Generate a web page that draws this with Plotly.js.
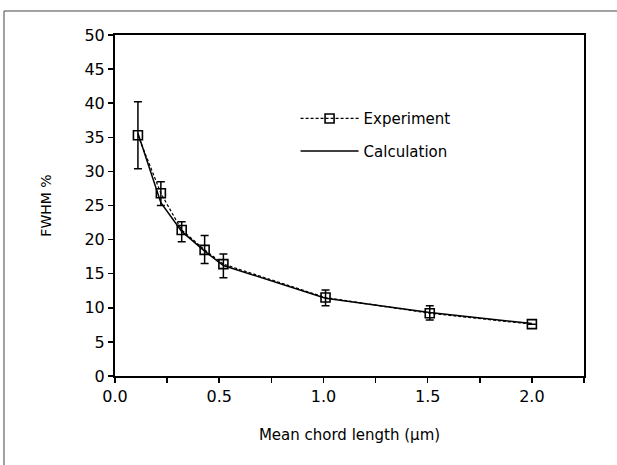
<!DOCTYPE html>
<html>
<head>
<meta charset="utf-8">
<script src="https://cdn.plot.ly/plotly-3.0.1.min.js"></script>
<style>html,body{margin:0;padding:0;background:#fff;}#chart{width:617px;height:465px;}</style>
</head>
<body>
<div id="chart"></div>
<script>
// Data
var expX = [0.11, 0.22, 0.32, 0.43, 0.52, 1.01, 1.51, 2.0];
var expY = [35.3, 26.8, 21.4, 18.5, 16.4, 11.5, 9.2, 7.6];
var expErrPlus = [4.9, 1.7, 1.2, 2.1, 1.5, 1.1, 1.1, 0.0];
var expErrMinus = [4.9, 1.8, 1.7, 2.0, 2.0, 1.2, 1.0, 0.0];
var calcX = [0.11, 0.22, 0.32, 0.43, 0.52, 1.01, 1.51, 2.0];
var calcY = [35.6, 25.4, 21.2, 18.3, 16.2, 11.4, 9.3, 7.7];
var xTickVals = [0.0, 0.5, 1.0, 1.5, 2.0];
var xTickText = ['0.0', '0.5', '1.0', '1.5', '2.0'];
var seriesNames = ['Experiment', 'Calculation'];

var font = 'DejaVu Sans, Arial, sans-serif';

var traces = [
  {
    x: calcX, y: calcY, name: seriesNames[1], type: 'scatter', mode: 'lines',
    legendgroup: 'b', legendrank: 2,
    line: {color: '#000', width: 1.5}
  },
  {
    x: expX, y: expY, name: seriesNames[0], type: 'scatter', mode: 'lines+markers',
    legendgroup: 'a', legendrank: 1,
    line: {color: '#000', width: 1.2, dash: '3px,2px'},
    marker: {symbol: 'square-open', size: 9, color: '#000', line: {width: 1.6, color: '#000'}},
    error_y: {type: 'data', symmetric: false, array: expErrPlus, arrayminus: expErrMinus,
              color: '#000', thickness: 1.5, width: 4}
  }
];

var layout = {
  width: 617, height: 465,
  margin: {l: 115, r: 33, t: 35, b: 89},
  paper_bgcolor: '#fff', plot_bgcolor: '#fff',
  showlegend: true,
  legend: {
    x: 0.385, y: 0.803, xanchor: 'left', yanchor: 'top',
    traceorder: 'grouped', itemwidth: 58, tracegroupgap: 10,
    font: {family: font, size: 15, color: '#000'},
    bgcolor: 'rgba(0,0,0,0)'
  },
  xaxis: {
    range: [0, 2.25], tickmode: 'array', tickvals: xTickVals, ticktext: xTickText,
    ticks: 'outside', ticklen: 5, tickwidth: 1.5, tickcolor: '#000',
    minor: {dtick: 0.25, ticks: 'outside', ticklen: 5, tickwidth: 1.5, tickcolor: '#000'},
    showline: true, linecolor: '#000', linewidth: 2, mirror: true,
    showgrid: false, zeroline: false,
    tickfont: {family: font, size: 16, color: '#000'},
    title: {text: 'Mean chord length (\u03bcm)', font: {family: font, size: 15, color: '#000'}, standoff: 24}
  },
  yaxis: {
    range: [0, 50], dtick: 5, ticks: 'outside', ticklen: 5, tickwidth: 1.5, tickcolor: '#000',
    showline: true, linecolor: '#000', linewidth: 2, mirror: true,
    showgrid: false, zeroline: false,
    tickfont: {family: font, size: 16, color: '#000'},
    title: {text: 'FWHM %', font: {family: font, size: 14, color: '#000'}, standoff: 30}
  },
  shapes: [
    {type: 'rect', xref: 'paper', yref: 'paper', x0: -0.2367, y0: 1.0704, x1: 1.2, y1: -0.5,
     line: {color: '#444', width: 1}, fillcolor: 'rgba(0,0,0,0)', layer: 'below'}
  ]
};

Plotly.newPlot('chart', traces, layout, {displayModeBar: false, staticPlot: true});
</script>
</body>
</html>
